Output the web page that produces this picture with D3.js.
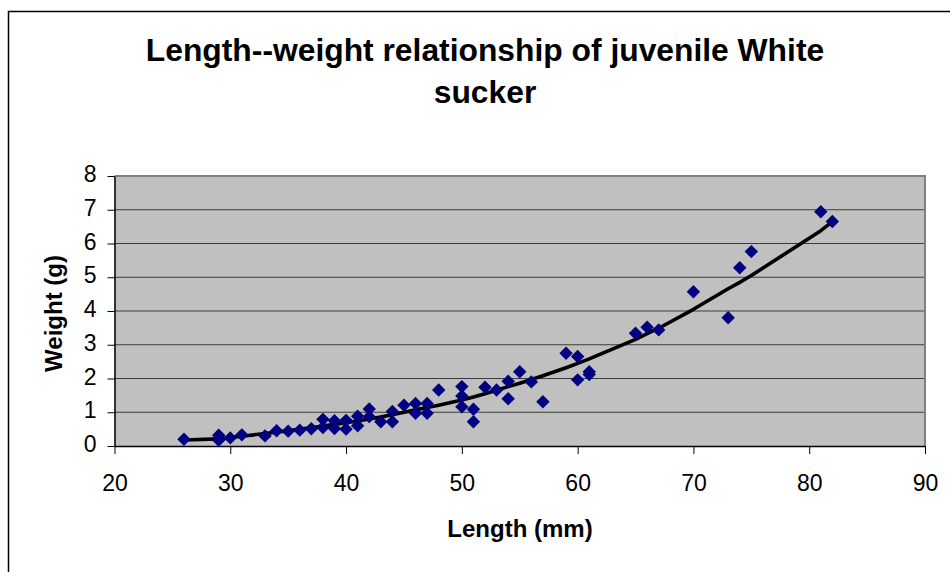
<!DOCTYPE html>
<html>
<head>
<meta charset="utf-8">
<script src="https://cdn.jsdelivr.net/npm/d3@7"></script>
<style>
  html, body { margin: 0; padding: 0; background: #ffffff; }
  svg { display: block; font-family: "Liberation Sans", Arial, sans-serif; }
</style>
</head>
<body>
<svg id="chart" width="950" height="572"></svg>
<script>
// ---- Data ----
const lengthMm = [26, 29, 29, 30, 31, 33, 34, 35, 36, 37, 38, 38, 39, 39, 40, 40, 41, 41, 42, 42,
                  43, 44, 44, 45, 46, 46, 47, 47, 48, 50, 50, 50, 51, 51, 52, 53, 54, 54, 55, 56,
                  57, 59, 60, 60, 61, 61, 65, 66, 67, 70, 73, 74, 75, 81, 82];
const weightG  = [0.20, 0.32, 0.17, 0.24, 0.33, 0.30, 0.45, 0.44, 0.47, 0.51, 0.79, 0.55, 0.75, 0.52, 0.76, 0.50, 0.88, 0.60, 1.10, 0.87,
                  0.72, 1.02, 0.72, 1.21, 1.26, 0.97, 1.26, 0.97, 1.66, 1.76, 1.48, 1.16, 1.09, 0.72, 1.74, 1.66, 1.92, 1.40, 2.20, 1.90,
                  1.31, 2.75, 2.65, 1.96, 2.20, 2.12, 3.34, 3.52, 3.44, 4.57, 3.80, 5.28, 5.76, 6.94, 6.65];
const trendLength = [26, 29, 30, 31, 33, 34, 35, 36, 37, 38, 39, 40, 41, 42, 43, 44, 45, 46, 47, 48,
                     50, 51, 52, 53, 54, 55, 56, 57, 59, 60, 61, 65, 66, 67, 70, 73, 74, 75, 81, 82];
const trendWeight = [0.18, 0.21, 0.25, 0.29, 0.37, 0.41, 0.45, 0.50, 0.54, 0.59, 0.64, 0.69, 0.74, 0.80, 0.86, 0.93, 1.00, 1.07, 1.14, 1.21,
                     1.36, 1.45, 1.55, 1.65, 1.76, 1.86, 1.97, 2.08, 2.32, 2.45, 2.58, 3.16, 3.33, 3.49, 4.05, 4.66, 4.85, 5.05, 6.38, 6.65];
const xTicks = [20, 30, 40, 50, 60, 70, 80, 90];
const yTicks = [0, 1, 2, 3, 4, 5, 6, 7, 8];
const titleLines = ["Length--weight relationship of juvenile White", "sucker"];
const xTitle = "Length (mm)";
const yTitle = "Weight (g)";

// ---- Layout ----
const svg = d3.select("#chart");
const plot = { left: 114.5, right: 925, top: 176, bottom: 446 };
const x = d3.scaleLinear().domain([20, 90]).range([plot.left, plot.right]);
const y = d3.scaleLinear().domain([0, 8]).range([plot.bottom, plot.top]);

// outer chart frame (left and top edges visible)
svg.append("path")
  .attr("d", "M8.5,572 L8.5,11.5 L950,11.5")
  .attr("fill", "none").attr("stroke", "#000").attr("stroke-width", 1.5);

// plot background
svg.append("rect")
  .attr("x", plot.left).attr("y", plot.top)
  .attr("width", plot.right - plot.left).attr("height", plot.bottom - plot.top)
  .attr("fill", "#c0c0c0");

// gridlines
svg.append("g").selectAll("line").data(yTicks.filter(v => v > 0 && v < 8)).join("line")
  .attr("x1", plot.left).attr("x2", plot.right)
  .attr("y1", d => y(d)).attr("y2", d => y(d))
  .attr("stroke", "#3c3c3c").attr("stroke-width", 1);

// plot border (top & right in gray)
svg.append("path")
  .attr("d", `M${plot.left},${plot.top} L${plot.right},${plot.top} L${plot.right},${plot.bottom}`)
  .attr("fill", "none").attr("stroke", "#808080").attr("stroke-width", 2);

// axes
const xAxis = d3.axisBottom(x).tickValues(xTicks).tickSize(8).tickPadding(21).tickSizeOuter(0);
const gx = svg.append("g").attr("transform", `translate(0,${plot.bottom})`).call(xAxis);
const yAxis = d3.axisLeft(y).tickValues(yTicks).tickSize(7).tickPadding(11).tickSizeOuter(0);
const gy = svg.append("g").attr("transform", `translate(${plot.left},0)`).call(yAxis);

[gx, gy].forEach(g => {
  g.select(".domain").attr("stroke", "#000").attr("stroke-width", 1.5);
  g.selectAll(".tick line").attr("stroke", "#000").attr("stroke-width", 1);
  g.selectAll(".tick text")
    .attr("fill", "#000")
    .style("font-family", '"Liberation Sans", Arial, sans-serif')
    .style("font-size", "23px");
});
gy.selectAll(".tick text").attr("dy", "0.24em");

// trend line
const line = d3.line().x((d, i) => x(trendLength[i])).y((d, i) => y(trendWeight[i]));
svg.append("path")
  .datum(trendLength)
  .attr("d", line)
  .attr("fill", "none")
  .attr("stroke", "#000")
  .attr("stroke-width", 3.6)
  .attr("stroke-linejoin", "round");

// diamond markers
const diamond = d3.symbol().type(d3.symbolSquare).size(90);
svg.append("g").selectAll("path").data(lengthMm).join("path")
  .attr("d", diamond)
  .attr("transform", (d, i) => `translate(${x(lengthMm[i])},${y(weightG[i])}) rotate(45)`)
  .attr("fill", "#000080");

// title
svg.append("g").selectAll("text").data(titleLines).join("text")
  .attr("x", 485)
  .attr("y", (d, i) => 61 + i * 42)
  .attr("text-anchor", "middle")
  .style("font-size", "31.8px")
  .style("font-weight", "bold")
  .text(d => d);

// axis titles
svg.append("text")
  .attr("x", 520).attr("y", 536.5)
  .attr("text-anchor", "middle")
  .style("font-size", "24px").style("font-weight", "bold")
  .text(xTitle);

svg.append("text")
  .attr("transform", "translate(62,313.5) rotate(-90)")
  .attr("text-anchor", "middle")
  .style("font-size", "24px").style("font-weight", "bold")
  .text(yTitle);
</script>
</body>
</html>
